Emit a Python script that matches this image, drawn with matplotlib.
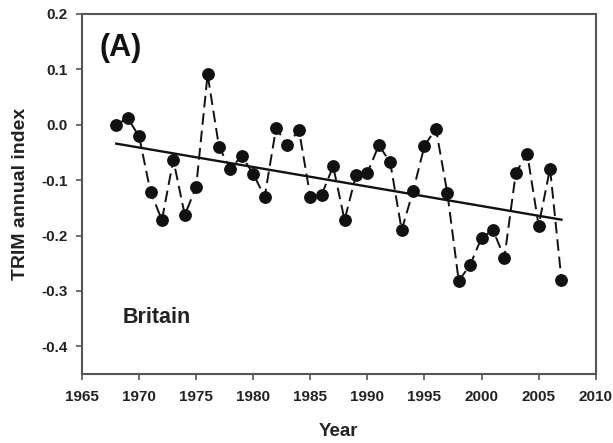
import numpy as np
import matplotlib
matplotlib.use("Agg")
import matplotlib.pyplot as plt

plt.rcParams['font.family'] = ['Liberation Sans', 'DejaVu Sans']
plt.rcParams['font.weight'] = 'bold'

years = list(range(1968, 2008))
index = [0.000, 0.012, -0.021, -0.121, -0.172, -0.063, -0.163, -0.112, 0.091, -0.040,
         -0.080, -0.056, -0.089, -0.130, -0.006, -0.037, -0.009, -0.130, -0.126, -0.075,
         -0.172, -0.091, -0.087, -0.037, -0.068, -0.190, -0.120, -0.038, -0.007, -0.123,
         -0.282, -0.253, -0.204, -0.190, -0.240, -0.087, -0.052, -0.182, -0.079, -0.280]

x = np.array(years)
y = np.array(index)
# linear trend over the whole series
slope, intercept = np.polyfit(x, y, 1)

fig = plt.figure(figsize=(6.13, 4.43), dpi=100)
ax = fig.add_axes([0.1338, 0.1558, 0.838, 0.8126])

ax.plot(x, y, color='#111111', linestyle=(0, (6, 3)), linewidth=1.4,
        marker='o', markersize=8.2, markerfacecolor='#111111', markeredgecolor='#111111')
ax.plot([x[0], x[-1]], [slope * x[0] + intercept, slope * x[-1] + intercept],
        color='#111111', linewidth=1.7)

ax.set_xlim(1965, 2010)
ax.set_ylim(-0.45, 0.2)
ax.set_xticks(range(1965, 2011, 5))
ax.set_yticks(np.arange(-0.4, 0.21, 0.1))
ax.set_yticklabels(["-0.4", "-0.3", "-0.2", "-0.1", "0.0", "0.1", "0.2"])

for s in ax.spines.values():
    s.set_color('#555555')
    s.set_linewidth(1.5)
ax.tick_params(direction='out', length=4.5, width=1.2, color='#555555',
               labelsize=11, labelcolor='#222222')
ax.tick_params(axis='x', pad=7)
ax.tick_params(axis='y', pad=6)

ax.set_xlabel("Year", fontsize=13.5, fontweight='bold', color='#222222', labelpad=14)
ax.set_ylabel("TRIM annual index", fontsize=14, fontweight='bold', color='#222222', labelpad=9)

ax.text(0.034, 0.905, "(A)", transform=ax.transAxes, fontsize=22, fontweight='bold',
        color='#111111', va='center')
ax.text(0.08, 0.143, "Britain", transform=ax.transAxes, fontsize=15.5, fontweight='bold',
        color='#222222', va='baseline')

fig.savefig("out.png", dpi=100)
